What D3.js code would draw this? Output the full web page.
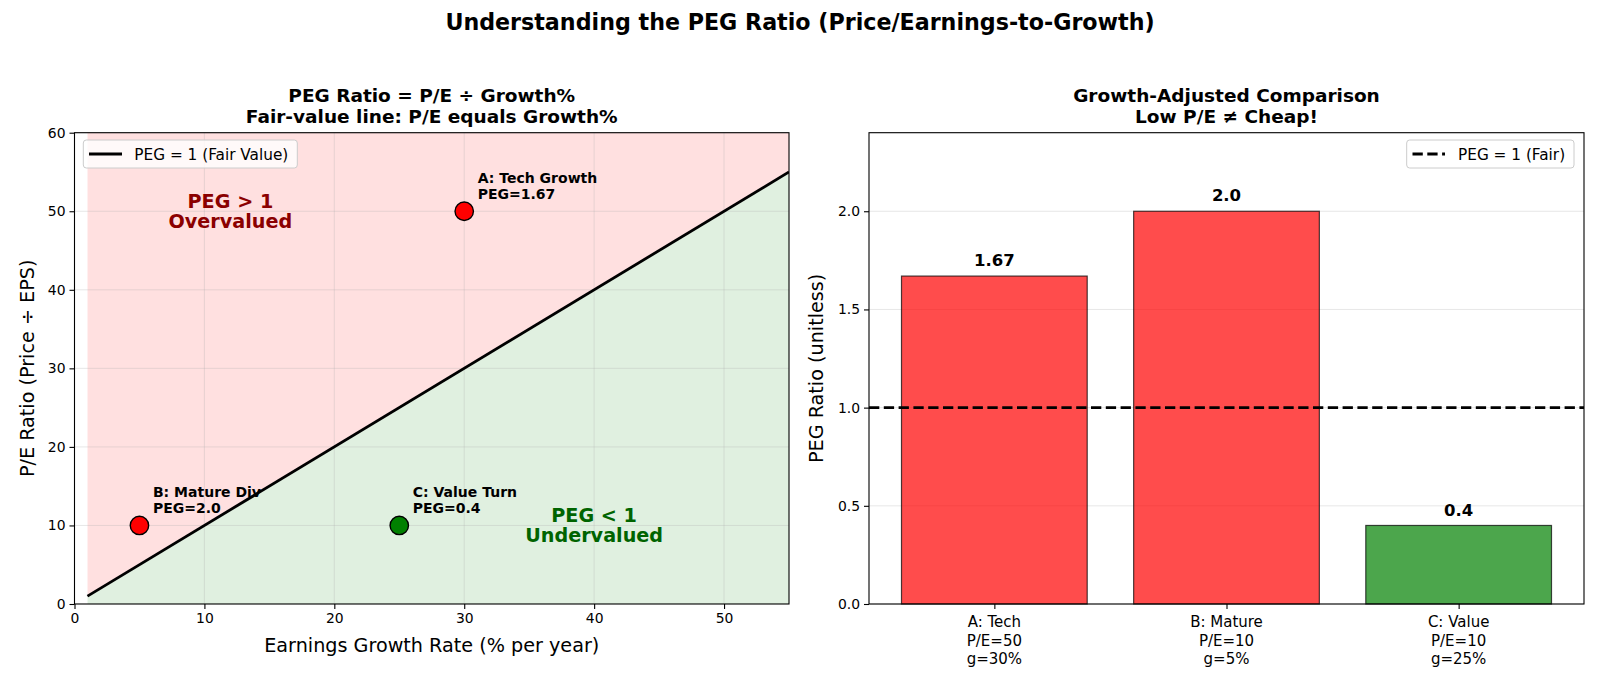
<!DOCTYPE html>
<html>
<head>
<meta charset="utf-8">
<script src="https://cdn.jsdelivr.net/npm/d3@7"></script>
<style>
  body { margin: 0; background: #fff; }
  svg { display: block; font-family: 'DejaVu Sans', sans-serif; }
  .tick text { fill: #000; }
</style>
</head>
<body>
<svg id="chart"></svg>
<script>
// chart data
var company_names = ['A: Tech Growth', 'B: Mature Div', 'C: Value Turn'];
var growth_rates = [30, 5, 25];
var pe_ratios = [50, 10, 10];
var peg_ratios = [1.67, 2.0, 0.4];
var peg_text = ['1.67', '2.0', '0.4'];
var bar_labels = [
  ['A: Tech', 'P/E=50', 'g=30%'],
  ['B: Mature', 'P/E=10', 'g=5%'],
  ['C: Value', 'P/E=10', 'g=25%']
];
var fair_line_x = [1, 55];
var left_x_ticks = [0, 10, 20, 30, 40, 50];
var left_y_ticks = [0, 10, 20, 30, 40, 50, 60];
var right_y_ticks = [0, 0.5, 1.0, 1.5, 2.0];

// layout constants
var svg_width = 1600,
  svg_height = 686,
  plot_top = 132.7,
  plot_bottom = 604,
  left_x0 = 74.5,
  left_x1 = 789,
  right_x0 = 869,
  right_x1 = 1584;

var red_col = '#ff0000',
  green_col = '#008000';

function peg_color(v) {
  return v > 1 ? red_col : green_col;
}

var svg = d3.select('#chart').attr('width', svg_width).attr('height', svg_height);

// suptitle
svg.append('text')
  .attr('x', svg_width / 2)
  .attr('y', 30)
  .attr('text-anchor', 'middle')
  .attr('font-size', 22.2)
  .attr('font-weight', 'bold')
  .text('Understanding the PEG Ratio (Price/Earnings-to-Growth)');

// ---------- left panel: P/E vs growth ----------
var x_left = d3.scaleLinear().domain([0, 55]).range([left_x0, left_x1]);
var y_left = d3.scaleLinear().domain([0, 60]).range([plot_bottom, plot_top]);

var left = svg.append('g');

left.append('clipPath').attr('id', 'clip-left')
  .append('rect')
  .attr('x', left_x0).attr('y', plot_top)
  .attr('width', left_x1 - left_x0).attr('height', plot_bottom - plot_top);

var left_plot = left.append('g').attr('clip-path', 'url(#clip-left)');

// shaded regions above / below the fair value line
left_plot.append('path')
  .datum(fair_line_x)
  .attr('d', d3.area().x(function(d) { return x_left(d); })
    .y0(function(d) { return y_left(d); })
    .y1(y_left(60)))
  .attr('fill', red_col)
  .attr('fill-opacity', 0.12);

left_plot.append('path')
  .datum(fair_line_x)
  .attr('d', d3.area().x(function(d) { return x_left(d); })
    .y0(y_left(0))
    .y1(function(d) { return y_left(d); }))
  .attr('fill', green_col)
  .attr('fill-opacity', 0.12);

// grid
left_plot.selectAll('.vgrid').data(left_x_ticks).enter().append('line')
  .attr('x1', function(d) { return x_left(d); })
  .attr('x2', function(d) { return x_left(d); })
  .attr('y1', plot_top).attr('y2', plot_bottom)
  .attr('stroke', '#b0b0b0').attr('stroke-opacity', 0.3).attr('stroke-width', 1);
left_plot.selectAll('.hgrid').data(left_y_ticks).enter().append('line')
  .attr('y1', function(d) { return y_left(d); })
  .attr('y2', function(d) { return y_left(d); })
  .attr('x1', left_x0).attr('x2', left_x1)
  .attr('stroke', '#b0b0b0').attr('stroke-opacity', 0.3).attr('stroke-width', 1);

// fair value line
left_plot.append('path')
  .datum(fair_line_x)
  .attr('d', d3.line().x(function(d) { return x_left(d); }).y(function(d) { return y_left(d); }))
  .attr('stroke', '#000')
  .attr('stroke-width', 2.8)
  .attr('fill', 'none');

// region labels
function region_label(gx, gy, lines, col) {
  var t = left_plot.append('text')
    .attr('text-anchor', 'middle')
    .attr('font-size', 19.2)
    .attr('font-weight', 'bold')
    .attr('fill', col);
  lines.forEach(function(s, i) {
    t.append('tspan')
      .attr('x', x_left(gx))
      .attr('y', y_left(gy) + (i === 0 ? -3.5 : 16.5))
      .text(s);
  });
}
region_label(12, 50, ['PEG > 1', 'Overvalued'], '#8b0000');
region_label(40, 10, ['PEG < 1', 'Undervalued'], '#006400');

// company points
var pts = company_names.map(function(n, i) {
  return { name: n, g: growth_rates[i], pe: pe_ratios[i], peg: peg_ratios[i], lab: peg_text[i] };
});

left.selectAll('.pt').data(pts).enter().append('circle')
  .attr('cx', function(d) { return x_left(d.g); })
  .attr('cy', function(d) { return y_left(d.pe); })
  .attr('r', 9.2)
  .attr('fill', function(d) { return peg_color(d.peg); })
  .attr('stroke', '#000')
  .attr('stroke-width', 1.4);

var ann = left.selectAll('.ann').data(pts).enter().append('text')
  .attr('font-size', 14)
  .attr('font-weight', 'bold')
  .attr('fill', '#000');
ann.append('tspan')
  .attr('x', function(d) { return x_left(d.g) + 13.5; })
  .attr('y', function(d) { return y_left(d.pe) - 28; })
  .text(function(d) { return d.name; });
ann.append('tspan')
  .attr('x', function(d) { return x_left(d.g) + 13.5; })
  .attr('y', function(d) { return y_left(d.pe) - 12.3; })
  .text(function(d) { return 'PEG=' + d.lab; });

// axes
var lx_axis = left.append('g')
  .attr('transform', 'translate(0,' + plot_bottom + ')')
  .call(d3.axisBottom(x_left).tickValues(left_x_ticks).tickSize(5).tickPadding(4));
var ly_axis = left.append('g')
  .attr('transform', 'translate(' + left_x0 + ',0)')
  .call(d3.axisLeft(y_left).tickValues(left_y_ticks).tickSize(5).tickPadding(4));
[lx_axis, ly_axis].forEach(function(a) {
  a.select('.domain').remove();
  a.selectAll('text').attr('font-size', 13.9).attr('font-family', 'DejaVu Sans');
  a.selectAll('line').attr('stroke-width', 1.1);
});

left.append('rect')
  .attr('x', left_x0).attr('y', plot_top)
  .attr('width', left_x1 - left_x0).attr('height', plot_bottom - plot_top)
  .attr('fill', 'none').attr('stroke', '#000').attr('stroke-width', 1.1);

// legend
var leg_l = left.append('g');
leg_l.append('rect')
  .attr('x', 83.3).attr('y', 140).attr('width', 214).attr('height', 28)
  .attr('rx', 3).attr('fill', '#fff').attr('fill-opacity', 0.8)
  .attr('stroke', '#cccccc').attr('stroke-width', 1);
leg_l.append('line')
  .attr('x1', 89).attr('x2', 122).attr('y1', 154).attr('y2', 154)
  .attr('stroke', '#000').attr('stroke-width', 2.8);
leg_l.append('text')
  .attr('x', 134.3).attr('y', 159.5)
  .attr('font-size', 15.3)
  .text('PEG = 1 (Fair Value)');

// titles and labels
function two_line_title(cx, lines) {
  var t = svg.append('text')
    .attr('text-anchor', 'middle')
    .attr('font-size', 18.5)
    .attr('font-weight', 'bold');
  lines.forEach(function(s, i) {
    t.append('tspan').attr('x', cx).attr('y', 102 + i * 20.5).text(s);
  });
}
two_line_title((left_x0 + left_x1) / 2, ['PEG Ratio = P/E \u00f7 Growth%', 'Fair-value line: P/E equals Growth%']);

svg.append('text')
  .attr('x', (left_x0 + left_x1) / 2)
  .attr('y', 652)
  .attr('text-anchor', 'middle')
  .attr('font-size', 19.2)
  .text('Earnings Growth Rate (% per year)');

svg.append('text')
  .attr('transform', 'translate(34,' + (plot_top + plot_bottom) / 2 + ') rotate(-90)')
  .attr('text-anchor', 'middle')
  .attr('font-size', 19.2)
  .text('P/E Ratio (Price \u00f7 EPS)');

// ---------- right panel: PEG bars ----------
var x_right = d3.scaleLinear().domain([-0.54, 2.54]).range([right_x0, right_x1]);
var y_right = d3.scaleLinear().domain([0, 2.4]).range([plot_bottom, plot_top]);
var bar_w = 0.8;

var right = svg.append('g');

right.selectAll('.hgrid').data(right_y_ticks).enter().append('line')
  .attr('y1', function(d) { return y_right(d); })
  .attr('y2', function(d) { return y_right(d); })
  .attr('x1', right_x0).attr('x2', right_x1)
  .attr('stroke', '#b0b0b0').attr('stroke-opacity', 0.3).attr('stroke-width', 1);

var bars = peg_ratios.map(function(v, i) {
  return { i: i, v: v, lab: peg_text[i] };
});

right.selectAll('.bar').data(bars).enter().append('rect')
  .attr('x', function(d) { return x_right(d.i - bar_w / 2); })
  .attr('width', function(d) { return x_right(d.i + bar_w / 2) - x_right(d.i - bar_w / 2); })
  .attr('y', function(d) { return y_right(d.v); })
  .attr('height', function(d) { return y_right(0) - y_right(d.v); })
  .attr('fill', function(d) { return peg_color(d.v); })
  .attr('fill-opacity', 0.7)
  .attr('stroke', '#000')
  .attr('stroke-opacity', 0.7)
  .attr('stroke-width', 1.2);

right.selectAll('.val').data(bars).enter().append('text')
  .attr('x', function(d) { return x_right(d.i); })
  .attr('y', function(d) { return y_right(d.v + 0.05); })
  .attr('text-anchor', 'middle')
  .attr('font-size', 16.5)
  .attr('font-weight', 'bold')
  .text(function(d) { return d.lab; });

// fair line at PEG = 1
right.append('line')
  .attr('x1', right_x0).attr('x2', right_x1)
  .attr('y1', y_right(1)).attr('y2', y_right(1))
  .attr('stroke', '#000')
  .attr('stroke-width', 2.8)
  .attr('stroke-dasharray', '10.3,4.5');

var ry_axis = right.append('g')
  .attr('transform', 'translate(' + right_x0 + ',0)')
  .call(d3.axisLeft(y_right).tickValues(right_y_ticks).tickFormat(d3.format('.1f')).tickSize(5).tickPadding(4));
ry_axis.select('.domain').remove();
ry_axis.selectAll('text').attr('font-size', 13.9).attr('font-family', 'DejaVu Sans');
ry_axis.selectAll('line').attr('stroke-width', 1.1);

var rx_axis = right.append('g')
  .attr('transform', 'translate(0,' + plot_bottom + ')')
  .call(d3.axisBottom(x_right).tickValues([0, 1, 2]).tickSize(5).tickFormat(''));
rx_axis.select('.domain').remove();
rx_axis.selectAll('line').attr('stroke-width', 1.1);

var rx_lab = right.selectAll('.xlab').data(bar_labels).enter().append('text')
  .attr('text-anchor', 'middle')
  .attr('font-size', 15);
rx_lab.each(function(lines, i) {
  var t = d3.select(this);
  lines.forEach(function(s, j) {
    t.append('tspan')
      .attr('x', x_right(i))
      .attr('y', 627.3 + j * 18.2)
      .text(s);
  });
});

right.append('rect')
  .attr('x', right_x0).attr('y', plot_top)
  .attr('width', right_x1 - right_x0).attr('height', plot_bottom - plot_top)
  .attr('fill', 'none').attr('stroke', '#000').attr('stroke-width', 1.1);

// legend
var leg_r = right.append('g');
leg_r.append('rect')
  .attr('x', 1406.7).attr('y', 140).attr('width', 167.3).attr('height', 28)
  .attr('rx', 3).attr('fill', '#fff').attr('fill-opacity', 0.8)
  .attr('stroke', '#cccccc').attr('stroke-width', 1);
leg_r.append('line')
  .attr('x1', 1412.5).attr('x2', 1445).attr('y1', 154).attr('y2', 154)
  .attr('stroke', '#000').attr('stroke-width', 2.8)
  .attr('stroke-dasharray', '10.3,4.5');
leg_r.append('text')
  .attr('x', 1458).attr('y', 159.5)
  .attr('font-size', 15.3)
  .text('PEG = 1 (Fair)');

two_line_title((right_x0 + right_x1) / 2, ['Growth-Adjusted Comparison', 'Low P/E \u2260 Cheap!']);

svg.append('text')
  .attr('transform', 'translate(823,' + (plot_top + plot_bottom) / 2 + ') rotate(-90)')
  .attr('text-anchor', 'middle')
  .attr('font-size', 19.2)
  .text('PEG Ratio (unitless)');
</script>
</body>
</html>
